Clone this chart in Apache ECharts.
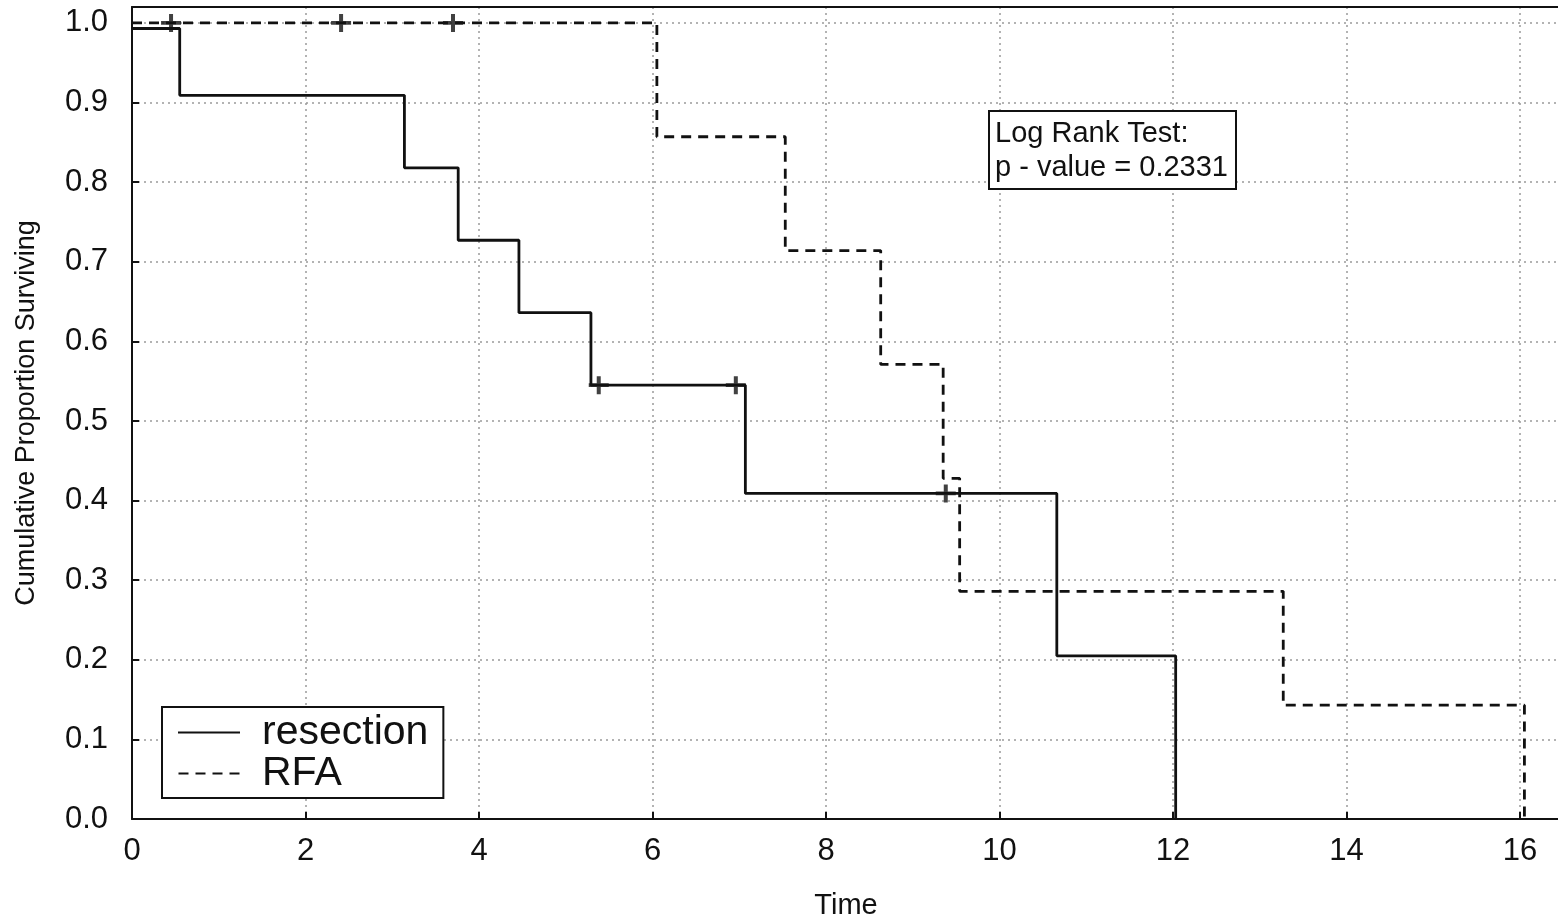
<!DOCTYPE html>
<html>
<head>
<meta charset="utf-8">
<script src="https://cdn.jsdelivr.net/npm/echarts@6/dist/echarts.min.js"></script>
<style>
html,body{margin:0;padding:0;background:#fff;}
#chart{width:1558px;height:918px;}
</style>
</head>
<body>
<div id="chart"></div>
<script>
// Kaplan-Meier step points (time, cumulative proportion surviving)
const resectionTimes = [0, 0.55, 3.14, 3.76, 4.46, 5.29, 7.07, 10.66, 12.03];
const resectionSurv  = [0.993, 0.909, 0.818, 0.727, 0.636, 0.545, 0.409, 0.205, 0.0];
const rfaTimes = [0, 6.05, 7.53, 8.63, 9.35, 9.54, 13.27, 16.05];
const rfaSurv  = [1.0, 0.857, 0.714, 0.571, 0.428, 0.286, 0.143, 0.0];
// censored observations
const resectionCensorTimes = [5.38, 6.96, 9.38];
const resectionCensorSurv  = [0.545, 0.545, 0.409];
const rfaCensorTimes = [0.45, 2.41, 3.70];
const rfaCensorSurv  = [1.0, 1.0, 1.0];
// axes
const xTicks = [0, 2, 4, 6, 8, 10, 12, 14, 16];
const yTicks = [0.0, 0.1, 0.2, 0.3, 0.4, 0.5, 0.6, 0.7, 0.8, 0.9, 1.0];
const seriesNames = ['resection', 'RFA'];
const testText = ['Log Rank Test:', 'p - value = 0.2331'];

const zip = (a, b) => a.map((v, i) => [v, b[i]]);
const plusPath = 'path://M4,0h2v4h4v2h-4v4h-2v-4h-4v-2h4z';
const FONT = '"Liberation Sans", Arial, sans-serif';

const chart = echarts.init(document.getElementById('chart'));
chart.setOption({
  animation: false,
  backgroundColor: '#fff',
  textStyle: { fontFamily: FONT, color: '#111' },
  title: {
    text: testText.join('\n'),
    left: 989, top: 111,
    borderColor: '#111', borderWidth: 2,
    padding: [6, 8, 4, 6],
    backgroundColor: '#fff',
    textStyle: { fontFamily: FONT, fontSize: 29, fontWeight: 'normal', color: '#111', lineHeight: 34 }
  },
  legend: {
    orient: 'vertical',
    left: 162, top: 707,
    padding: [5, 15, 4, 16],
    borderColor: '#111', borderWidth: 2,
    backgroundColor: '#fff',
    itemWidth: 62, itemHeight: 2, itemGap: 0,
    textStyle: { fontFamily: FONT, fontSize: 41, lineHeight: 38, color: '#111', padding: [0, 0, 0, 17] },
    data: [
      { name: seriesNames[0], icon: 'path://M0,0h62v2h-62z' },
      { name: seriesNames[1], icon: 'path://M0,0h10v2h-10zM17,0h10v2h-10zM34,0h10v2h-10zM51,0h10v2h-10z' }
    ]
  },
  grid: { left: 132, top: 7, right: -2, bottom: 99, containLabel: false, outerBoundsMode: 'none' },
  xAxis: [{
    type: 'value', min: 0, max: 16.46, interval: 2,
    name: 'Time', nameLocation: 'middle', nameGap: 72,
    nameTextStyle: { fontFamily: FONT, fontSize: 29, color: '#111' },
    axisLine: { show: true, lineStyle: { color: '#111', width: 2 } },
    axisTick: { show: true, inside: true, length: 7, lineStyle: { color: '#111', width: 2 } },
    axisLabel: {
      fontFamily: FONT, fontSize: 31, color: '#111', margin: 17,
      formatter: v => xTicks.indexOf(v) >= 0 ? String(v) : ''
    },
    splitLine: { show: true, lineStyle: { color: '#9a9a9a', type: [2, 4], width: 1.5 } }
  }, {
    type: 'value', position: 'top', min: 0, max: 16.46,
    axisLine: { show: true, onZero: false, lineStyle: { color: '#111', width: 2 } },
    axisTick: { show: false }, axisLabel: { show: false }, splitLine: { show: false }
  }],
  yAxis: {
    type: 'value', min: 0, max: 1.02, interval: 0.1,
    name: 'Cumulative Proportion Surviving', nameLocation: 'middle', nameGap: 92,
    nameTextStyle: { fontFamily: FONT, fontSize: 27, color: '#111' },
    axisLine: { show: true, lineStyle: { color: '#111', width: 2 } },
    axisTick: { show: true, inside: true, length: 7, lineStyle: { color: '#111', width: 2 } },
    axisLabel: {
      fontFamily: FONT, fontSize: 31, color: '#111', margin: 24,
      formatter: v => {
        const t = yTicks.find(y => Math.abs(y - v) < 1e-6);
        return t === undefined ? '' : t.toFixed(1);
      }
    },
    splitLine: { show: true, lineStyle: { color: '#9a9a9a', type: [2, 4], width: 1.5 } }
  },
  series: [{
    name: seriesNames[0], type: 'line', step: 'end', symbol: 'none',
    data: zip(resectionTimes, resectionSurv),
    lineStyle: { color: '#111', width: 2.8 }, itemStyle: { color: '#111' }, z: 3
  }, {
    name: seriesNames[1], type: 'line', step: 'end', symbol: 'none',
    data: zip(rfaTimes, rfaSurv),
    lineStyle: { color: '#111', width: 2.8, type: [10, 7] }, itemStyle: { color: '#111' }, z: 3
  }, {
    name: seriesNames[0] + ' censored', type: 'scatter', symbol: plusPath, symbolSize: [20, 18],
    data: zip(resectionCensorTimes, resectionCensorSurv),
    itemStyle: { color: '#111' }, z: 4
  }, {
    name: seriesNames[1] + ' censored', type: 'scatter', symbol: plusPath, symbolSize: [20, 18],
    data: zip(rfaCensorTimes, rfaCensorSurv),
    itemStyle: { color: '#111' }, z: 4
  }]
});
</script>
</body>
</html>
